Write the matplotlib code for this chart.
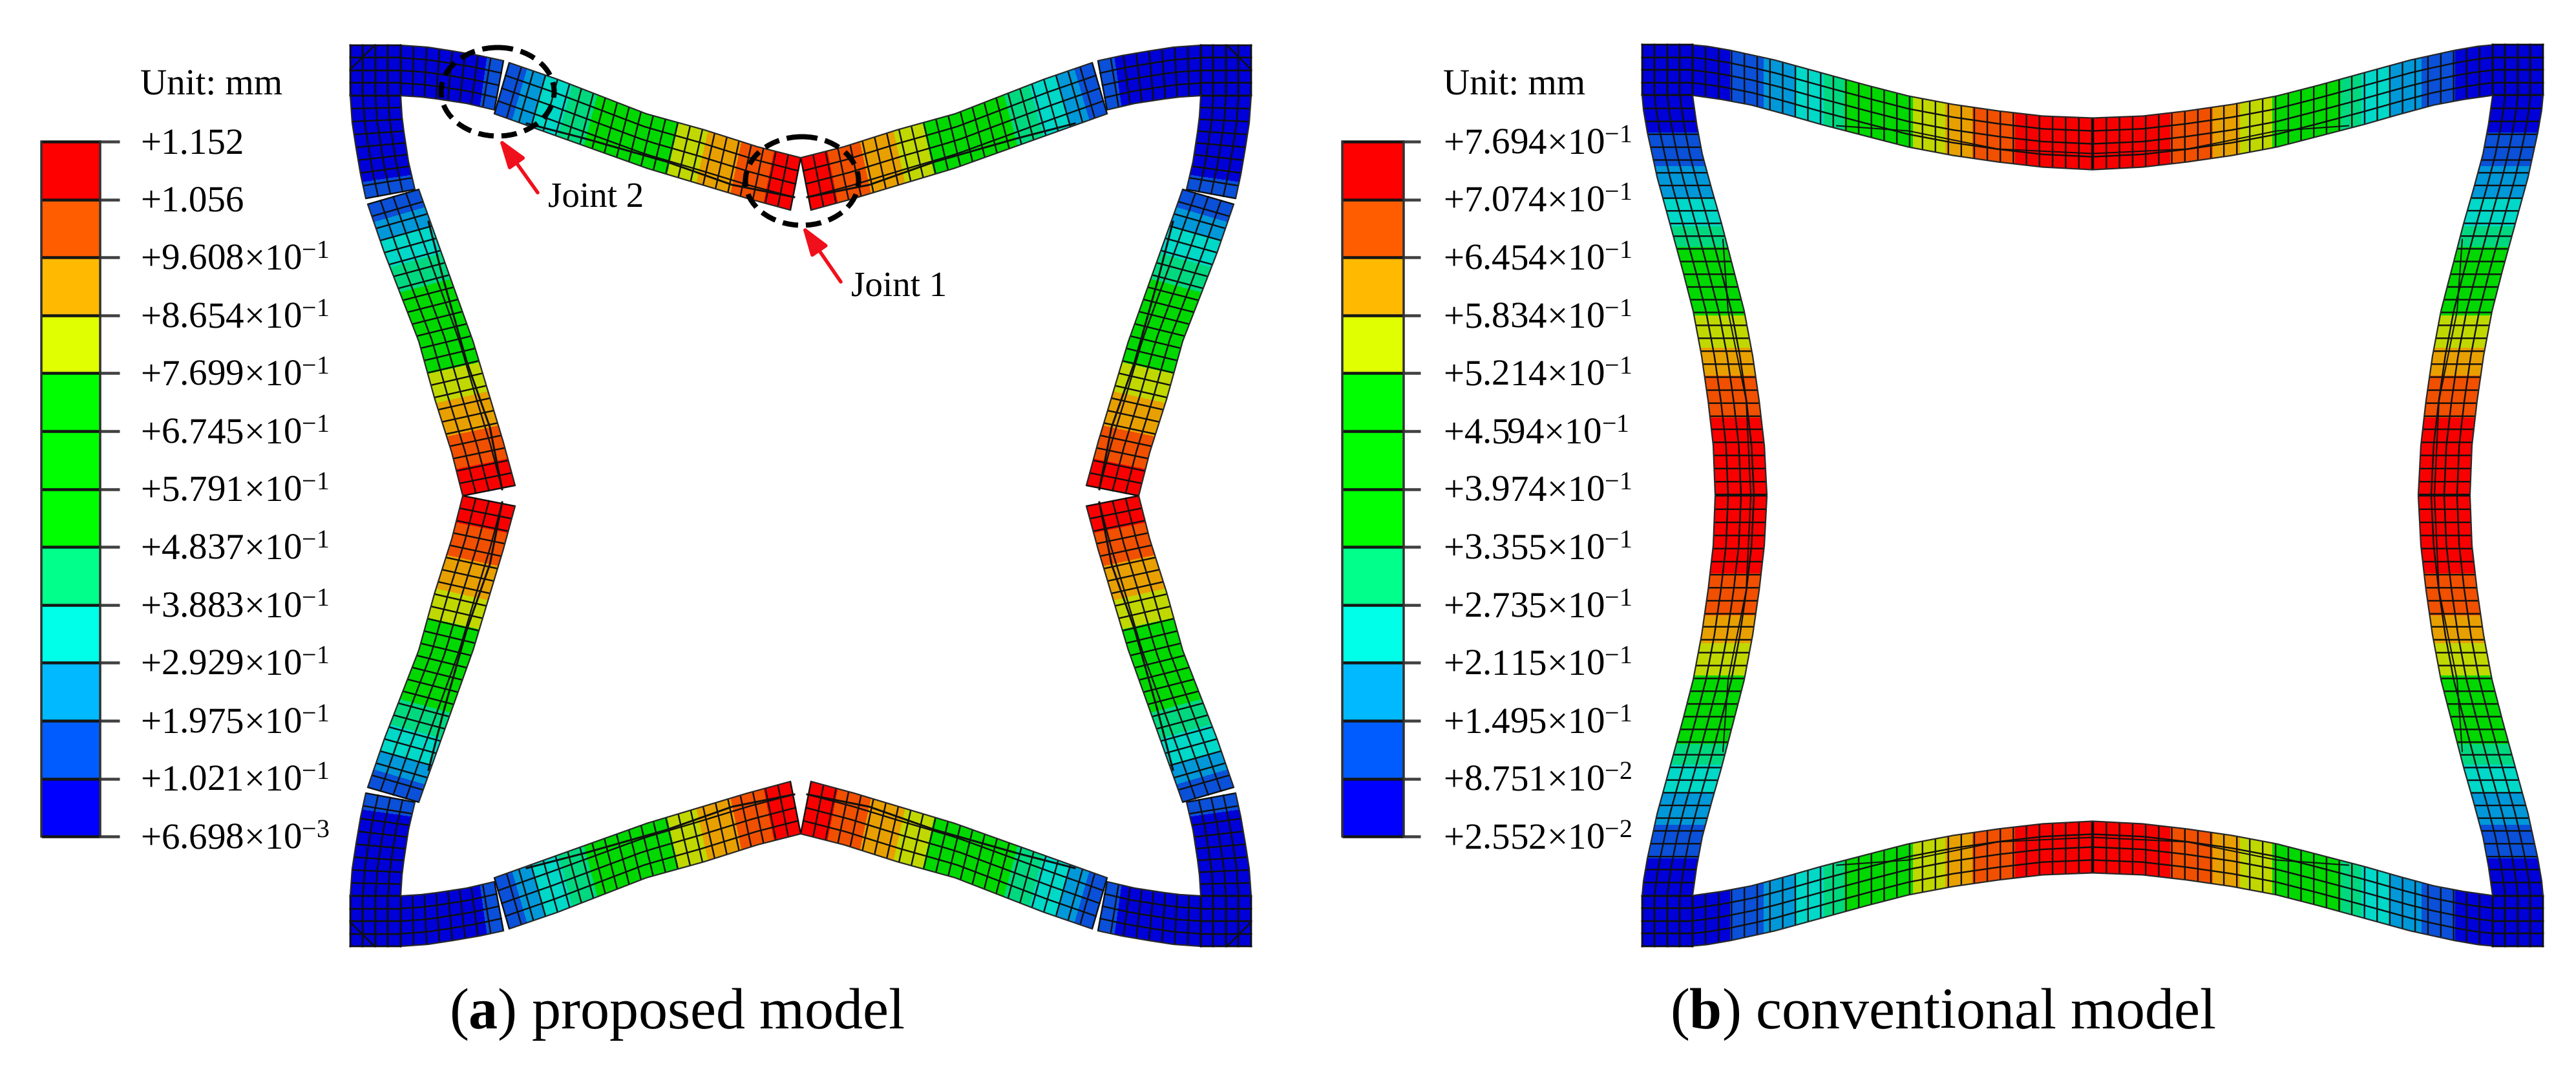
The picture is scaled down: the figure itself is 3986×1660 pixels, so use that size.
import matplotlib
matplotlib.use('Agg')

import matplotlib.pyplot as plt
import numpy as np
from matplotlib.colors import ListedColormap, BoundaryNorm
from matplotlib.patches import Ellipse

#colorbar labels, top to bottom
a_ticks = ["+1.152", "+1.056", "+9.608×10$^{-1}$", "+8.654×10$^{-1}$", "+7.699×10$^{-1}$",
	"+6.745×10$^{-1}$", "+5.791×10$^{-1}$", "+4.837×10$^{-1}$", "+3.883×10$^{-1}$",
	"+2.929×10$^{-1}$", "+1.975×10$^{-1}$", "+1.021×10$^{-1}$", "+6.698×10$^{-3}$"]
b_ticks = ["+7.694×10$^{-1}$", "+7.074×10$^{-1}$", "+6.454×10$^{-1}$", "+5.834×10$^{-1}$",
	"+5.214×10$^{-1}$", "+4.594×10$^{-1}$", "+3.974×10$^{-1}$", "+3.355×10$^{-1}$",
	"+2.735×10$^{-1}$", "+2.115×10$^{-1}$", "+1.495×10$^{-1}$", "+8.751×10$^{-2}$",
	"+2.552×10$^{-2}$"]

#band colours, low to high
legend_colors = ["#0000FF", "#005CFF", "#00B9FF", "#00FFE8", "#00FF8B", "#00FF00",
	"#00FF00", "#00FF00", "#E0FF00", "#FFB900", "#FF5D00", "#FF0000"]
mesh_colors = ["#0000D8", "#0A50D8", "#0098D8", "#00D8C8", "#00D880", "#00D800",
	"#00D800", "#00D800", "#C0D800", "#E8A000", "#F05000", "#F80000"]

#bands seen along the half arms (skips the two extra greens)
arm_levels = [0, 1, 2, 3, 4, 5, 8, 9, 10, 11]

#proposed model, quarter frame measured from its outer corner (u along arm, v across)
a_corner_outer_u = [78, 120, 159, 200, 237]
a_corner_outer_v = [0, 3, 9, 16, 24]
a_corner_inner_u = [78, 110, 134, 180, 223]
a_corner_inner_v = [78, 80, 83, 90, 100]
a_corner_edges = [207]
a_arm_outer_u = [246, 319, 458, 545, 630, 697]
a_arm_outer_v = [27, 52, 106, 130, 157, 174]
a_arm_inner_u = [223, 293, 458, 545, 611, 681]
a_arm_inner_v = [106, 131, 190, 216, 236, 255]
a_arm_edges = [262, 292, 333, 372, 500, 546, 598, 648]
a_rib_u = [273, 362, 489, 591, 687]
a_rib_v = [121, 144, 180, 216, 235]
a_cut_u = [0, 38]
a_cut_v = [37, 0]

#conventional model, same idea but the arm runs through to the midpoint
b_arm_outer_u = [78, 100, 135, 204, 273, 342, 412, 481, 550, 619, 696]
b_arm_outer_v = [0, 2, 8, 23, 42, 61, 79, 92, 102, 110, 113]
b_arm_inner_u = [78, 121, 169, 221, 273, 342, 412, 481, 550, 619, 696]
b_arm_inner_v = [78, 84, 93, 107, 122, 140, 158, 171, 181, 189, 193]
b_arm_edges = [137, 187, 238, 280, 312, 418, 468, 512, 578]
b_rib_u = [301, 412, 550, 696]
b_rib_v = [125, 133, 161, 168]

PX = 0.72  #points per pixel at dpi=100
LINE = "#101010"
MESH_LW = 2.4 * PX
cmap = ListedColormap(mesh_colors)
norm = BoundaryNorm(np.arange(13) - 0.5, 12)


def resample(u, v, t):
	#walk the polyline by arc length
	u = np.array(u, dtype=float)
	v = np.array(v, dtype=float)
	s = np.concatenate([[0], np.cumsum(np.hypot(np.diff(u), np.diff(v)))])
	return np.interp(t * s[-1], s, u), np.interp(t * s[-1], s, v)


def make_placer(ox, oy, swap, flip_x, flip_y):
	def place(u, v):
		u = np.asarray(u, dtype=float)
		v = np.asarray(v, dtype=float)
		if swap:
			u, v = v, u
		x = ox + 1394 - u if flip_x else ox + u
		y = oy + 1394 - v if flip_y else oy + v
		return x, y
	return place


def draw_arm(ax, place, outer_u, outer_v, inner_u, inner_v, ncols, nrows, edges, levels):
	#fill first in thin strips so contour edges can cut through elements
	t = np.linspace(0, 1, ncols * 8 + 1)
	ou, ov = resample(outer_u, outer_v, t)
	iu, iv = resample(inner_u, inner_v, t)
	mid = (ou + iu) / 2
	strip_mid = (mid[:-1] + mid[1:]) / 2
	lev = np.array(levels)[np.searchsorted(edges, strip_mid)]
	x0, y0 = place(ou, ov)
	x1, y1 = place(iu, iv)
	X = np.column_stack([x0, x1])
	Y = np.column_stack([y0, y1])
	ax.pcolormesh(X, Y, lev[:, None], cmap=cmap, norm=norm, shading='flat', zorder=2)

	#element lines
	for i in range(0, len(t), 8):
		ax.plot(X[i], Y[i], color=LINE, lw=MESH_LW, zorder=3, solid_capstyle='butt')
	for j in range(nrows + 1):
		f = j / nrows
		edge = j == 0 or j == nrows
		ax.plot(x0 + (x1 - x0) * f, y0 + (y1 - y0) * f, color="#282828" if edge else LINE,
			lw=2.2 * PX if edge else MESH_LW, zorder=3)


def draw_corner(ax, place, size, ncells):
	u = np.linspace(0, size, ncells + 1)
	U, V = np.meshgrid(u, u)
	X, Y = place(U, V)
	ax.pcolormesh(X, Y, np.zeros((ncells, ncells)), cmap=cmap, norm=norm, shading='flat', zorder=2)
	for i in range(ncells + 1):
		ax.plot(X[i], Y[i], color=LINE, lw=MESH_LW, zorder=3)
		ax.plot(X[:, i], Y[:, i], color=LINE, lw=MESH_LW, zorder=3)


def draw_legend(ax, left, right, tick_end, text_x, labels):
	top = 219
	step = 89.6
	for i in range(12):
		ax.bar(left, step, width=right - left, bottom=top + i * step, align='edge',
			color=legend_colors[11 - i], zorder=2)
	for i in range(13):
		y = top + i * step
		ax.plot([left, right], [y, y], color="#151515", lw=4.5 * PX, zorder=3, solid_capstyle='butt')
		ax.plot([right, tick_end], [y, y], color="#404040", lw=4.5 * PX, zorder=3, solid_capstyle='butt')
		ax.text(text_x, y + 19, labels[i], fontsize=57 * PX, va='baseline', ha='left')
	ax.plot([left, left], [top, top + 12 * step], color="#303030", lw=3.5 * PX, zorder=3)
	ax.plot([right, right], [top, top + 12 * step], color="#303030", lw=3.5 * PX, zorder=3)
	ax.text(text_x, 146, "Unit: mm", fontsize=57 * PX, va='baseline', ha='left')


def all_placers(ox, oy):
	out = []
	for fx in (False, True):
		for fy in (False, True):
			for sw in (False, True):
				out.append(make_placer(ox, oy, sw, fx, fy))
	return out


def main():
	plt.rcParams['font.family'] = ['Liberation Serif', 'DejaVu Serif']
	plt.rcParams['mathtext.fontset'] = 'custom'
	plt.rcParams['mathtext.rm'] = 'Liberation Serif'
	plt.rcParams['mathtext.it'] = 'Liberation Serif:italic'
	plt.rcParams['mathtext.bf'] = 'Liberation Serif:bold'
	plt.rcParams['text.hinting'] = 'no_hinting'

	fig = plt.figure(figsize=(39.86, 16.6), dpi=100)
	ax = fig.add_axes([0, 0, 1, 1])
	ax.set_xlim(0, 3986)
	ax.set_ylim(1660, 0)
	ax.axis('off')

	#proposed model
	for place in all_placers(542, 70):
		draw_corner(ax, place, 78, 4)
		draw_arm(ax, place, a_corner_outer_u, a_corner_outer_v, a_corner_inner_u, a_corner_inner_v,
			8, 4, a_corner_edges, arm_levels[:2])
		draw_arm(ax, place, a_arm_outer_u, a_arm_outer_v, a_arm_inner_u, a_arm_inner_v,
			24, 4, a_arm_edges, arm_levels[1:])
		rx, ry = place(a_rib_u, a_rib_v)
		ax.plot(rx, ry, color=LINE, lw=3 * PX, zorder=4)
		cx, cy = place(a_cut_u, a_cut_v)
		ax.plot(cx, cy, color=LINE, lw=2 * PX, zorder=4)

	#conventional model
	for place in all_placers(2541, 69.5):
		draw_corner(ax, place, 78, 4)
		draw_arm(ax, place, b_arm_outer_u, b_arm_outer_v, b_arm_inner_u, b_arm_inner_v,
			31, 4, b_arm_edges, arm_levels)
		rx, ry = place(b_rib_u, b_rib_v)
		ax.plot(rx, ry, color=LINE, lw=2 * PX, zorder=4)

	draw_legend(ax, 64, 155, 185, 217, a_ticks)
	draw_legend(ax, 2077, 2172, 2198, 2233, b_ticks)

	#joint call-outs
	for cx, cy in [(770, 142), (1241, 280)]:
		ax.add_patch(Ellipse((cx, cy), 175, 137, fill=False, edgecolor='black', lw=8 * PX,
			linestyle=(0, (3, 1.5)), zorder=5))
	for start, tip in [((832, 298), (772, 214)), ((1301, 436), (1241, 349))]:
		ax.annotate("", xy=tip, xytext=start, zorder=6, arrowprops=dict(
			arrowstyle='-|>,head_length=1.7,head_width=0.57', color='#F0101C',
			lw=5.5 * PX, mutation_scale=16, shrinkA=0, shrinkB=0))
	ax.text(848, 319, "Joint 2", fontsize=55 * PX, va='baseline')
	ax.text(1317, 457, "Joint 1", fontsize=55 * PX, va='baseline')

	#captions
	ax.text(695, 1591, "($\\mathbf{a}$) proposed model", fontsize=90 * PX, va='baseline')
	ax.text(2584, 1591, "($\\mathbf{b}$) conventional model", fontsize=90 * PX, va='baseline')

	plt.savefig("out.png", dpi=100)


if __name__ == '__main__':
	main()
